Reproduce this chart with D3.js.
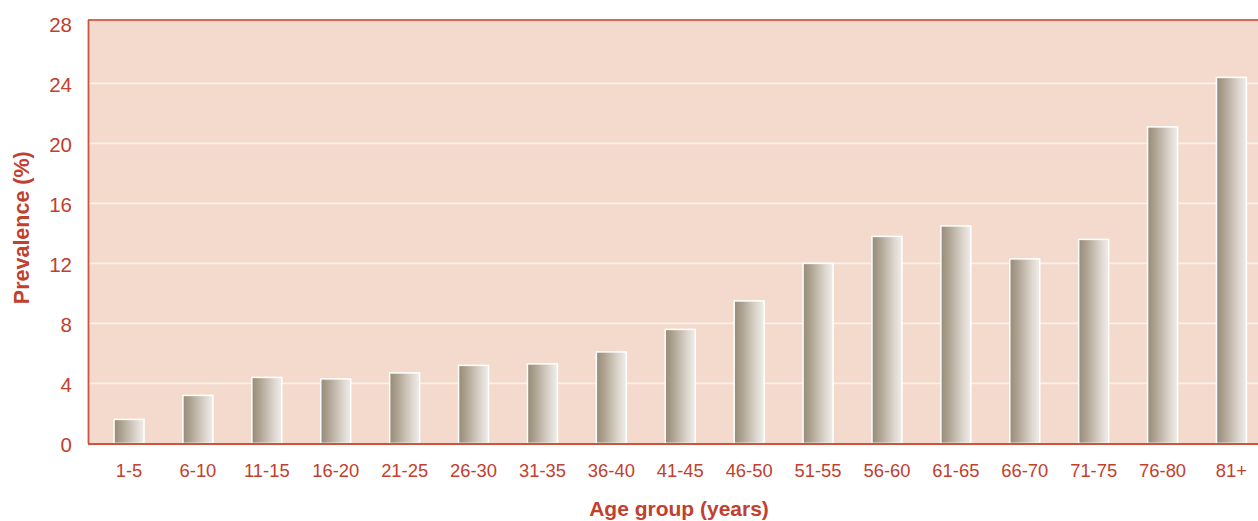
<!DOCTYPE html>
<html>
<head>
<meta charset="utf-8">
<script src="https://cdn.jsdelivr.net/npm/d3@7"></script>
<style>
  html, body { margin: 0; padding: 0; background: #ffffff; overflow: hidden; }
  svg { display: block; font-family: "Liberation Sans", Arial, sans-serif; }
</style>
</head>
<body>
<svg id="chart" width="1258" height="521"></svg>
<script>
// Prevalence by age group
const ageGroups = ["1-5", "6-10", "11-15", "16-20", "21-25", "26-30", "31-35", "36-40",
  "41-45", "46-50", "51-55", "56-60", "61-65", "66-70", "71-75", "76-80", "81+"];
const prevalence = [1.6, 3.2, 4.4, 4.3, 4.7, 5.2, 5.3, 6.1, 7.6, 9.5, 12.0, 13.8, 14.5, 12.3, 13.6, 21.1, 24.4];
const yTicks = [0, 4, 8, 12, 16, 20, 24, 28];

const svg = d3.select("#chart");
const red = "#c1402e";
const axisRed = "#cc5443";

const plot = { left: 88, right: 1272.5, top: 20, bottom: 443.4 };

const x = d3.scaleBand()
  .domain(ageGroups)
  .range([plot.left, plot.right])
  .paddingInner(0.565)
  .paddingOuter(0.378);

const y = d3.scaleLinear()
  .domain([0, 28])
  .range([plot.bottom, 23.4]);

// Bar shading: dark taupe on the left fading to near white on the right
const defs = svg.append("defs");
const grad = defs.append("linearGradient")
  .attr("id", "barShade")
  .attr("x1", "0%").attr("x2", "100%").attr("y1", "0%").attr("y2", "0%");
[[0, "#968a78"], [0.25, "#ada290"], [0.5, "#c6bdb0"], [0.75, "#ddd7cf"], [1, "#f0ede9"]]
  .forEach(([o, c]) => grad.append("stop").attr("offset", o).attr("stop-color", c));

// Plot background
svg.append("rect")
  .attr("x", plot.left).attr("y", plot.top)
  .attr("width", plot.right - plot.left).attr("height", plot.bottom - plot.top)
  .attr("fill", "#f3dacc");

// Gridlines
svg.append("g")
  .selectAll("line")
  .data(yTicks.filter(t => t > 0 && t < 28))
  .join("line")
  .attr("x1", plot.left).attr("x2", plot.right)
  .attr("y1", d => y(d)).attr("y2", d => y(d))
  .attr("stroke", "#fbf0ea")
  .attr("stroke-width", 1.6);

// Top frame line
svg.append("line")
  .attr("x1", plot.left).attr("x2", plot.right)
  .attr("y1", plot.top).attr("y2", plot.top)
  .attr("stroke", "#d8695a").attr("stroke-width", 1.8);

// Bars
svg.append("g")
  .selectAll("rect")
  .data(prevalence)
  .join("rect")
  .attr("x", (d, i) => x(ageGroups[i]))
  .attr("y", d => y(d))
  .attr("width", x.bandwidth())
  .attr("height", d => y(0) - y(d))
  .attr("fill", "url(#barShade)")
  .attr("stroke", "#ffffff")
  .attr("stroke-width", 1.5);

// Y axis
const yAxis = svg.append("g")
  .attr("transform", `translate(${plot.left},0)`)
  .call(d3.axisLeft(y).tickValues(yTicks).tickSize(0).tickPadding(16));
yAxis.select(".domain")
  .attr("d", `M0.5,${plot.top}V${plot.bottom}`)
  .attr("stroke", axisRed).attr("stroke-width", 1.8);
yAxis.selectAll("text")
  .attr("fill", red)
  .attr("font-size", 20.5)
  .attr("dy", "0.4em")
  .attr("font-family", "Liberation Sans, Arial, sans-serif");

// X axis
const xAxis = svg.append("g")
  .attr("transform", `translate(0,${plot.bottom})`)
  .call(d3.axisBottom(x).tickSize(0).tickPadding(21));
xAxis.select(".domain")
  .attr("d", `M${plot.left},0.5H${plot.right}`)
  .attr("stroke", axisRed).attr("stroke-width", 2);
xAxis.selectAll("text")
  .attr("fill", red)
  .attr("font-size", 18.4)
  .attr("font-family", "Liberation Sans, Arial, sans-serif");

// Axis titles
svg.append("text")
  .attr("transform", `translate(29,${(plot.top + plot.bottom) / 2 - 4}) rotate(-90)`)
  .attr("text-anchor", "middle")
  .attr("fill", red)
  .attr("font-size", 21.5)
  .attr("font-weight", "bold")
  .text("Prevalence (%)");

svg.append("text")
  .attr("x", 679)
  .attr("y", 515.5)
  .attr("text-anchor", "middle")
  .attr("fill", red)
  .attr("font-size", 21)
  .attr("font-weight", "bold")
  .text("Age group (years)");
</script>
</body>
</html>
